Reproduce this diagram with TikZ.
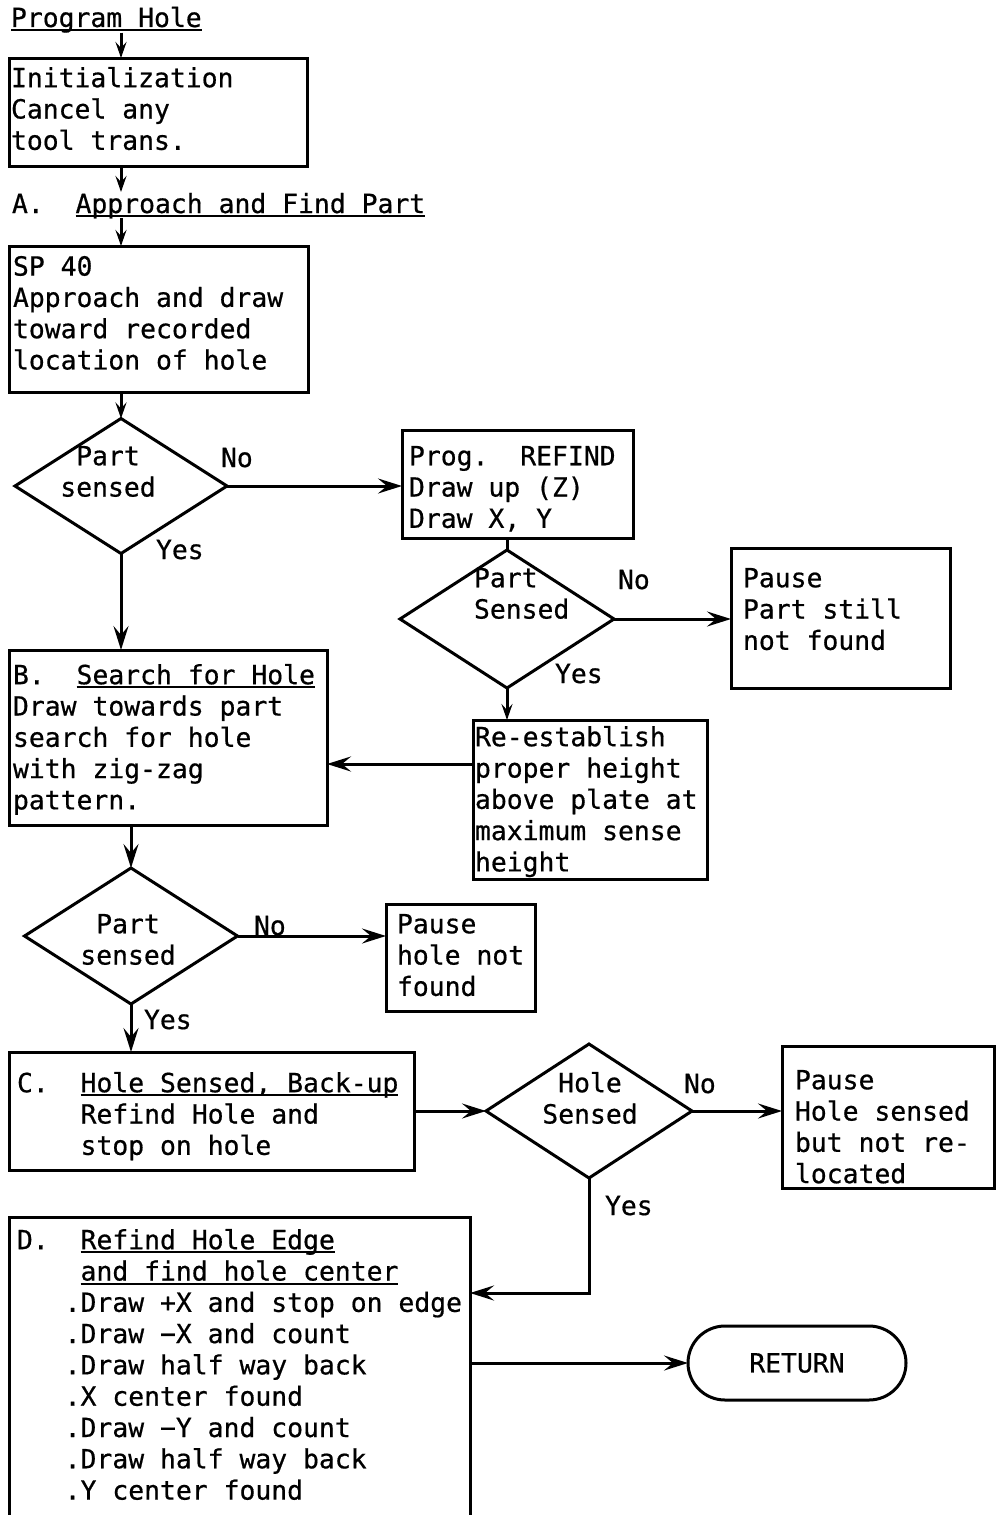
\documentclass[tikz,border=0pt]{standalone}
\usepackage{fontspec}
\usetikzlibrary{arrows.meta,shapes.geometric}
\newfontfamily\plotfont{DejaVu Sans Mono}[FakeBold=0.6]
% underline drawn close to the baseline, as a pen plotter does
\newcommand\plotul[1]{\setbox0\hbox{#1}\rlap{\rule[-4pt]{\wd0}{1.8pt}}\box0}
\newcommand\ind{\phantom{XXXX}}

\begin{document}
\begin{tikzpicture}[x=1pt,y=-1pt,
  line width=3pt,
  every node/.style={inner sep=0pt, outer sep=0pt},
  pfont/.style={font=\plotfont\fontsize{26.4pt}{31.3pt}\selectfont},
  txt/.style={pfont, anchor=north west, align=left, execute at begin node={\rule{0pt}{21pt}}},
  ctxt/.style={pfont, anchor=north, align=center, execute at begin node={\rule{0pt}{21pt}}},
  lbl/.style={pfont, anchor=base west},
  box/.style={draw, rectangle, anchor=north west},
  dec/.style={draw, diamond},
  arr/.style={-{Stealth[length=24pt,width=15pt,inset=9pt]}},
  arrs/.style={-{Stealth[length=16pt,width=11pt,inset=6pt]}},
]
\useasboundingbox (0,0) rectangle (996,1515);

% ---- start and initialisation
\node[txt] (ttl) at (11,6) {\plotul{Program Hole}};
\node[box, minimum width=298pt, minimum height=108pt] (init) at (9,58) {};
\node[txt] (initt) at (11,67) {Initialization\\Cancel any\\tool trans.};

% ---- A. approach and find part
\node[txt] (aln) at (12,192) {A.\ \ \plotul{Approach and Find Part}};
\node[box, minimum width=299pt, minimum height=146pt] (sp) at (9,246) {};
\node[txt] (spt) at (13,256) {SP 40\\Approach and draw\\toward recorded\\location of hole};

\node[dec, minimum width=212pt, minimum height=135pt] (d1) at (121,486) {};
\node[ctxt] (d1t) at (108,446) {Part\\sensed};
\node[lbl] (d1n) at (221,467) {No};
\node[lbl] (d1y) at (156,559) {Yes};

\node[box, minimum width=231pt, minimum height=108pt] (rf) at (402,430) {};
\node[txt] (rft) at (409,446) {Prog.\ \ REFIND\\Draw up (Z)\\Draw X, Y};

\node[dec, minimum width=214pt, minimum height=138pt] (d2) at (507,619) {};
\node[txt] (d2t) at (474,568) {Part\\Sensed};
\node[lbl] (d2n) at (618,589) {No};
\node[lbl] (d2y) at (555,683) {Yes};

\node[box, minimum width=219pt, minimum height=140pt] (p1) at (731,548) {};
\node[txt] (p1t) at (743,568) {Pause\\Part still\\not found};

\node[box, minimum width=234pt, minimum height=159pt] (re) at (473,720) {};
\node[txt] (ret) at (475,726) {Re-establish\\proper height\\above plate at\\maximum sense\\height};

% ---- B. search for hole
\node[box, minimum width=318pt, minimum height=175pt] (sr) at (9,650) {};
\node[txt] (srt) at (13,664) {B.\ \ \plotul{Search for Hole}\\Draw towards part\\search for hole\\with zig-zag\\pattern.};

\node[dec, minimum width=213pt, minimum height=136pt] (d3) at (131,936) {};
\node[ctxt] (d3t) at (128,914) {Part\\sensed};
\node[lbl] (d3n) at (254,935) {No};
\node[lbl] (d3y) at (144,1029) {Yes};

\node[box, minimum width=149pt, minimum height=107pt] (p2) at (386,904) {};
\node[txt] (p2t) at (397,914) {Pause\\hole not\\found};

% ---- C. hole sensed, back-up
\node[box, minimum width=405pt, minimum height=118pt] (hs) at (9,1052) {};
\node[txt] (hst) at (17,1072) {C.\ \ \plotul{Hole Sensed, Back-up}\\\ind Refind Hole and\\\ind stop on hole};

\node[dec, minimum width=206pt, minimum height=134pt] (d4) at (589,1111) {};
\node[ctxt] (d4t) at (590,1072) {Hole\\Sensed};
\node[lbl] (d4n) at (684,1093) {No};
\node[lbl] (d4y) at (605,1215) {Yes};

\node[box, minimum width=212pt, minimum height=142pt] (p3) at (782,1046) {};
\node[txt] (p3t) at (795,1070) {Pause\\Hole sensed\\but not re-\\located};

% ---- D. refind hole edge (box runs off the bottom of the sheet)
\node[anchor=north west, minimum width=461pt, minimum height=298pt] (dd) at (9,1217) {};
\draw (dd.south west) -- (dd.north west) -- (dd.north east) -- (dd.south east);
\node[txt] (ddt) at (17,1229) {D.\ \ \plotul{Refind Hole Edge}\\
  \ind\plotul{and find hole center}\\
  \ind\llap{.}Draw +X and stop on edge\\
  \ind\llap{.}Draw −X and count\\
  \ind\llap{.}Draw half way back\\
  \ind\llap{.}X center found\\
  \ind\llap{.}Draw −Y and count\\
  \ind\llap{.}Draw half way back\\
  \ind\llap{.}Y center found};

\node[draw, rounded corners=37pt, minimum width=218pt, minimum height=74pt, pfont] (rtn) at (797,1363) {RETURN};

% ---- connectors
\coordinate (cA) at (121,0);
\draw[arrs] (ttl.south -| cA) -- (init.north -| cA);
\draw[arrs] (init.south -| cA) -- (aln.north -| cA);
\draw[arrs] (aln.south -| cA) -- (sp.north -| cA);
\draw[arrs] (sp.south -| d1.north) -- (d1.north);
\draw[arr] (d1.east) -- (d1.east -| rf.west);
\draw (rf.south -| d2.north) -- (d2.north);
\draw[arr] (d2.east) -- (d2.east -| p1.west);
\draw[arrs] (d2.south) -- (d2.south |- re.north);
\coordinate (rj) at ([yshift=-44pt]re.north west);
\draw[arr] (rj) -- (rj -| sr.east);
\draw[arr] (d1.south) -- (d1.south |- sr.north);
\draw[arr] (sr.south -| d3.north) -- (d3.north);
\draw[arr] (d3.east) -- (d3.east -| p2.west);
\draw[arr] (d3.south) -- (d3.south |- hs.north);
\draw[arr] (hs.east |- d4.west) -- (d4.west);
\draw[arr] (d4.east) -- (d4.east -| p3.west);
\coordinate (dj) at ([yshift=-76pt]dd.north east);
\draw[arr] (d4.south) |- (dj);
\draw[arr] (rtn.west -| dd.east) -- (rtn.west);
\end{tikzpicture}
\end{document}
